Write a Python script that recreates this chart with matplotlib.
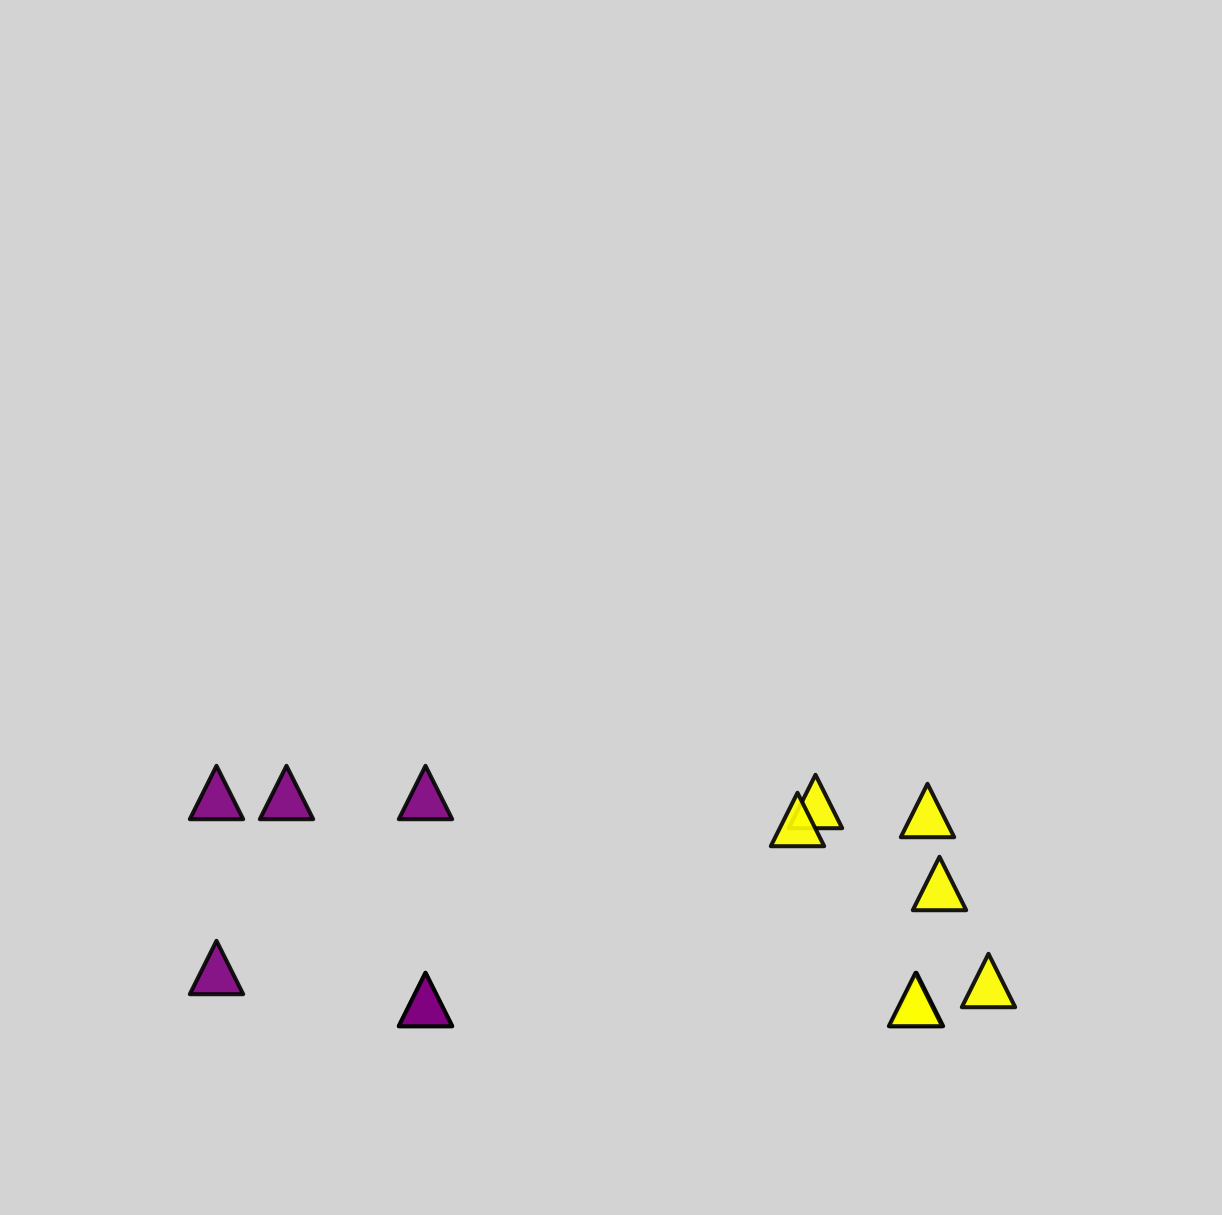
import matplotlib
matplotlib.use('Agg')
import matplotlib.pyplot as plt

# two groups of points (the darker marks are two points stacked)
purple_x = [2.16, 2.86, 4.25, 2.16, 4.25, 4.25]
purple_y = [4.23, 4.23, 4.23, 2.48, 2.16, 2.16]

yellow_x = [8.15, 7.97, 9.27, 9.39, 9.88, 9.16, 9.15]
yellow_y = [4.14, 3.96, 4.05, 3.32, 2.35, 2.16, 2.16]

fig = plt.figure(figsize=(12.22, 12.15), dpi=100)
fig.patch.set_facecolor('lightgray')
ax = fig.add_axes([0, 0, 1, 1])
ax.set_facecolor('lightgray')

ax.scatter(purple_x, purple_y, marker='^', s=1480, c='purple',
           edgecolors='black', linewidths=2.9, alpha=0.9)
ax.scatter(yellow_x, yellow_y, marker='^', s=1480, c='yellow',
           edgecolors='black', linewidths=2.9, alpha=0.9)

ax.set_xlim(0, 12.22)
ax.set_ylim(0, 12.15)
ax.axis('off')

fig.savefig('out.png', dpi=100, facecolor=fig.get_facecolor())
